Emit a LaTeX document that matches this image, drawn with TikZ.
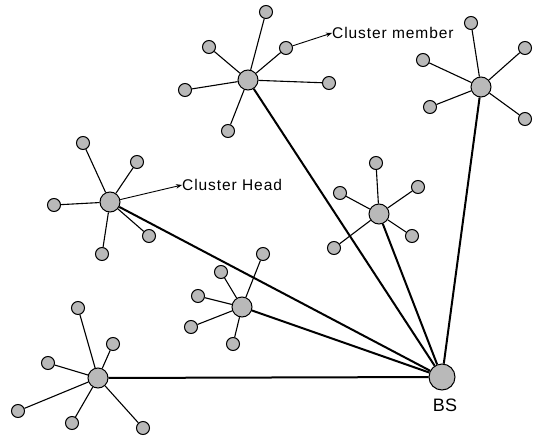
\documentclass[tikz,border=0pt]{standalone}
\usepackage{fontspec}
\setmainfont{Liberation Sans}
\newfontfamily\spacedfont[LetterSpace=6]{Liberation Sans}
\usetikzlibrary{arrows.meta}
\begin{document}
\begin{tikzpicture}[x=1pt,y=-1pt,
  member/.style={circle,draw=black,fill=gray!55,line width=1pt,minimum size=13pt,inner sep=0pt},
  head/.style={circle,draw=black,fill=gray!55,line width=1pt,minimum size=20pt,inner sep=0pt},
  bs/.style={circle,draw=black,fill=gray!55,line width=1pt,minimum size=26pt,inner sep=0pt},
  link/.style={line width=1.1pt},
  uplink/.style={line width=2pt},
  label/.style={font=\spacedfont\fontsize{15.5}{17}\selectfont,inner sep=0pt,anchor=west},
  pointer/.style={line width=0.9pt,-{Stealth[length=6pt,width=4.5pt]}}]
\useasboundingbox (0,0) rectangle (538,439);
% base station
\node[bs] (bs) at (442,377) {};
\node[font=\fontsize{18}{20}\selectfont,inner sep=0pt] (bslabel) at (445,405) {BS};
% cluster heads
\node[head] (h1) at (248,80) {};
\node[head] (h2) at (110,202) {};
\node[head] (h3) at (98,378) {};
\node[head] (h4) at (379,214) {};
\node[head] (h5) at (481,87) {};
\node[head] (h6) at (242,307) {};
% members cluster 1
\foreach \n/\x/\y in {a/266/12, b/209/47, c/286/48, d/185/90, e/329/83, f/228/131}
  {\node[member] (m1\n) at (\x,\y) {}; \draw[link] (h1) -- (m1\n);}
% members cluster 2
\foreach \n/\x/\y in {a/83/143, b/137/162, c/54/205, d/149/236, e/102/254}
  {\node[member] (m2\n) at (\x,\y) {}; \draw[link] (h2) -- (m2\n);}
% members cluster 3
\foreach \n/\x/\y in {a/78/308, b/113/344, c/48/363, d/18/411, e/72/423, f/143/428}
  {\node[member] (m3\n) at (\x,\y) {}; \draw[link] (h3) -- (m3\n);}
% members cluster 4
\foreach \n/\x/\y in {a/376/163, b/340/193, c/418/187, d/412/236, e/334/248}
  {\node[member] (m4\n) at (\x,\y) {}; \draw[link] (h4) -- (m4\n);}
% members cluster 5
\foreach \n/\x/\y in {a/471/23, b/423/60, c/525/48, d/430/107, e/525/119}
  {\node[member] (m5\n) at (\x,\y) {}; \draw[link] (h5) -- (m5\n);}
% members cluster 6
\foreach \n/\x/\y in {a/263/254, b/221/272, c/198/296, d/191/327, e/233/344}
  {\node[member] (m6\n) at (\x,\y) {}; \draw[link] (h6) -- (m6\n);}
% heads to base station
\foreach \h in {h1,h2,h3,h4,h5,h6}
  \draw[uplink] (\h) -- (bs);
% labels
\node[label] (lmember) at (332,33) {Cluster member};
\node[label] (lhead) at (182,185) {Cluster Head};
\draw[pointer] (m1c) -- (lmember.west);
\draw[pointer] (h2) -- (lhead.west);
\end{tikzpicture}
\end{document}
